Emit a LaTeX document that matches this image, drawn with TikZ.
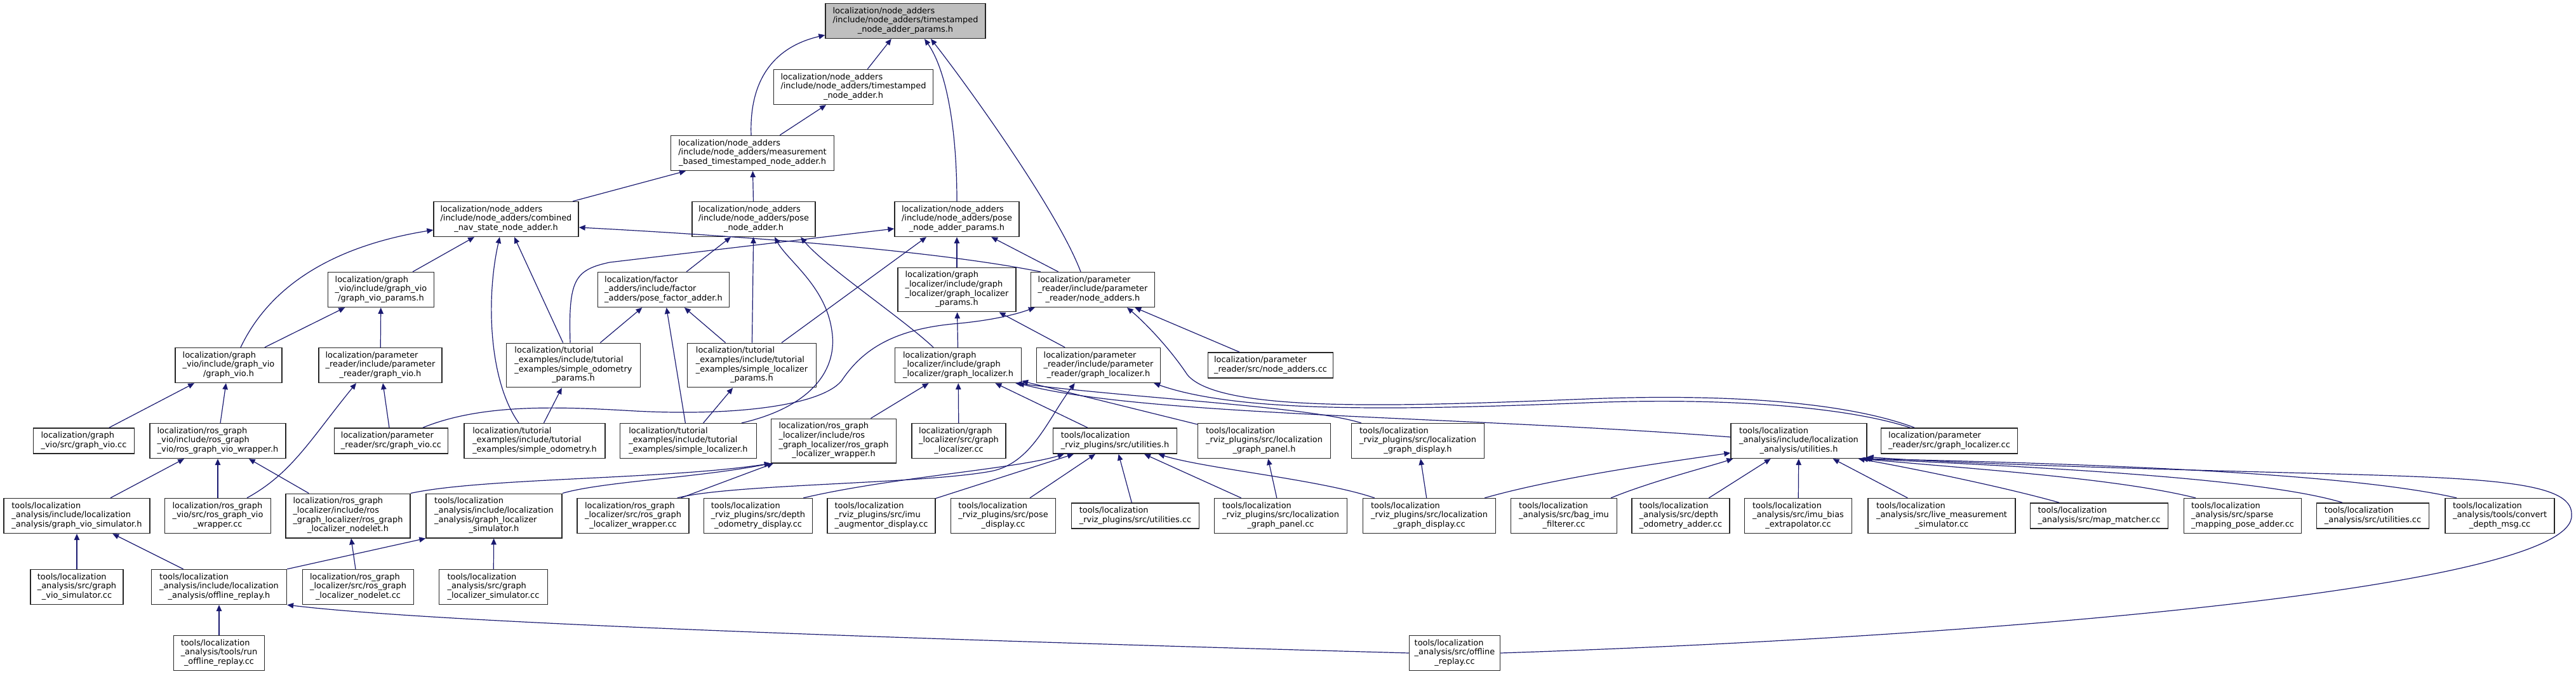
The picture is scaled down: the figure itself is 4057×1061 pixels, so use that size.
\documentclass[tikz,border=0pt]{standalone}
\usepackage{fontspec}
\setmainfont{DejaVu Sans}
\usetikzlibrary{arrows.meta,calc}
\definecolor{incblue}{HTML}{191970}
\definecolor{incgray}{HTML}{BFBFBF}
\tikzset{
  hdr/.style ={draw=black!85, fill=white, line width=1.1pt, inner xsep=4pt, inner ysep=3.9pt,
               font=\fontsize{9.2}{10.4}\selectfont, minimum width=#1*0.25mm},
  root/.style={hdr=#1, fill=incgray},
  dep/.style ={incblue, line width=0.85pt, -{Triangle[length=7pt,width=6pt]}},
}
% all lines flush left, the last one centred
\newcommand{\flines}[2]{\begin{tabular}{@{}l@{}}#1\\\multicolumn{1}{@{}c@{}}{#2}\end{tabular}}

\begin{document}
\begin{tikzpicture}[x=0.25mm, y=-0.25mm]
  \useasboundingbox (0,0) rectangle (4057,1061);
  % row 0 to 3: node adders
  \node[root=252] (n0) at (1426,33) {\flines{localization/node\_adders\\/include/node\_adders/timestamped}{\_node\_adder\_params.h}};
  \node[hdr=251] (n1) at (1344,137) {\flines{localization/node\_adders\\/include/node\_adders/timestamped}{\_node\_adder.h}};
  \node[hdr=257] (n2) at (1185,241) {\flines{localization/node\_adders\\/include/node\_adders/measurement}{\_based\_timestamped\_node\_adder.h}};
  \node[hdr=228] (n3) at (797,345) {\flines{localization/node\_adders\\/include/node\_adders/combined}{\_nav\_state\_node\_adder.h}};
  \node[hdr=194] (n4) at (1187,345) {\flines{localization/node\_adders\\/include/node\_adders/pose}{\_node\_adder.h}};
  \node[hdr=196] (n5) at (1507,345) {\flines{localization/node\_adders\\/include/node\_adders/pose}{\_node\_adder\_params.h}};
  % row 4
  \node[hdr=167] (n6) at (600,456) {\flines{localization/graph\\\_vio/include/graph\_vio}{/graph\_vio\_params.h}};
  \node[hdr=207] (n7) at (1045,456) {\flines{localization/factor\\\_adders/include/factor}{\_adders/pose\_factor\_adder.h}};
  \node[hdr=186] (n8) at (1507,456) {\flines{localization/graph\\\_localizer/include/graph\\\_localizer/graph\_localizer}{\_params.h}};
  \node[hdr=195] (n9) at (1721,456) {\flines{localization/parameter\\\_reader/include/parameter}{\_reader/node\_adders.h}};
  % row 5
  \node[hdr=168] (n10) at (360,575) {\flines{localization/graph\\\_vio/include/graph\_vio}{/graph\_vio.h}};
  \node[hdr=194] (n11) at (599,575) {\flines{localization/parameter\\\_reader/include/parameter}{\_reader/graph\_vio.h}};
  \node[hdr=211] (n12) at (903,575) {\flines{localization/tutorial\\\_examples/include/tutorial\\\_examples/simple\_odometry}{\_params.h}};
  \node[hdr=203] (n13) at (1184,575) {\flines{localization/tutorial\\\_examples/include/tutorial\\\_examples/simple\_localizer}{\_params.h}};
  \node[hdr=199] (n14) at (1509,575) {\flines{localization/graph\\\_localizer/include/graph}{\_localizer/graph\_localizer.h}};
  \node[hdr=195] (n15) at (1730,575) {\flines{localization/parameter\\\_reader/include/parameter}{\_reader/graph\_localizer.h}};
  \node[hdr=197] (n16) at (2001,575) {\flines{localization/parameter}{\_reader/src/node\_adders.cc}};
  % row 6
  \node[hdr=159] (n17) at (132,694) {\flines{localization/graph}{\_vio/src/graph\_vio.cc}};
  \node[hdr=214] (n18) at (343,694) {\flines{localization/ros\_graph\\\_vio/include/ros\_graph}{\_vio/ros\_graph\_vio\_wrapper.h}};
  \node[hdr=179] (n19) at (616,694) {\flines{localization/parameter}{\_reader/src/graph\_vio.cc}};
  \node[hdr=222] (n20) at (842,694) {\flines{localization/tutorial\\\_examples/include/tutorial}{\_examples/simple\_odometry.h}};
  \node[hdr=215] (n21) at (1084,694) {\flines{localization/tutorial\\\_examples/include/tutorial}{\_examples/simple\_localizer.h}};
  \node[hdr=197] (n22) at (1313,694) {\flines{localization/ros\_graph\\\_localizer/include/ros\\\_graph\_localizer/ros\_graph}{\_localizer\_wrapper.h}};
  \node[hdr=148] (n23) at (1510,694) {\flines{localization/graph\\\_localizer/src/graph}{\_localizer.cc}};
  \node[hdr=195] (n24) at (1756,694) {\flines{tools/localization}{\_rviz\_plugins/src/utilities.h}};
  \node[hdr=209] (n25) at (1991,694) {\flines{tools/localization\\\_rviz\_plugins/src/localization}{\_graph\_panel.h}};
  \node[hdr=209] (n26) at (2233,694) {\flines{tools/localization\\\_rviz\_plugins/src/localization}{\_graph\_display.h}};
  \node[hdr=214] (n27) at (2833,694) {\flines{tools/localization\\\_analysis/include/localization}{\_analysis/utilities.h}};
  \node[hdr=215] (n28) at (3070,694) {\flines{localization/parameter}{\_reader/src/graph\_localizer.cc}};
  % row 7
  \node[hdr=230] (n29) at (121,812) {\flines{tools/localization\\\_analysis/include/localization}{\_analysis/graph\_vio\_simulator.h}};
  \node[hdr=167] (n30) at (343,812) {\flines{localization/ros\_graph\\\_vio/src/ros\_graph\_vio}{\_wrapper.cc}};
  \node[hdr=196] (n31) at (548,812) {\flines{localization/ros\_graph\\\_localizer/include/ros\\\_graph\_localizer/ros\_graph}{\_localizer\_nodelet.h}};
  \node[hdr=214] (n32) at (778,812) {\flines{tools/localization\\\_analysis/include/localization\\\_analysis/graph\_localizer}{\_simulator.h}};
  \node[hdr=176] (n33) at (997,812) {\flines{localization/ros\_graph\\\_localizer/src/ros\_graph}{\_localizer\_wrapper.cc}};
  \node[hdr=171] (n34) at (1194,812) {\flines{tools/localization\\\_rviz\_plugins/src/depth}{\_odometry\_display.cc}};
  \node[hdr=170] (n35) at (1388,812) {\flines{tools/localization\\\_rviz\_plugins/src/imu}{\_augmentor\_display.cc}};
  \node[hdr=165] (n36) at (1580,812) {\flines{tools/localization\\\_rviz\_plugins/src/pose}{\_display.cc}};
  \node[hdr=201] (n37) at (1788,812) {\flines{tools/localization}{\_rviz\_plugins/src/utilities.cc}};
  \node[hdr=209] (n38) at (2017,812) {\flines{tools/localization\\\_rviz\_plugins/src/localization}{\_graph\_panel.cc}};
  \node[hdr=209] (n39) at (2251,812) {\flines{tools/localization\\\_rviz\_plugins/src/localization}{\_graph\_display.cc}};
  \node[hdr=167] (n40) at (2463,812) {\flines{tools/localization\\\_analysis/src/bag\_imu}{\_filterer.cc}};
  \node[hdr=154] (n41) at (2647,812) {\flines{tools/localization\\\_analysis/src/depth}{\_odometry\_adder.cc}};
  \node[hdr=169] (n42) at (2832,812) {\flines{tools/localization\\\_analysis/src/imu\_bias}{\_extrapolator.cc}};
  \node[hdr=232] (n43) at (3058,812) {\flines{tools/localization\\\_analysis/src/live\_measurement}{\_simulator.cc}};
  \node[hdr=217] (n44) at (3306,812) {\flines{tools/localization}{\_analysis/src/map\_matcher.cc}};
  \node[hdr=185] (n45) at (3532,812) {\flines{tools/localization\\\_analysis/src/sparse}{\_mapping\_pose\_adder.cc}};
  \node[hdr=177] (n46) at (3737,812) {\flines{tools/localization}{\_analysis/src/utilities.cc}};
  \node[hdr=172] (n47) at (3937,812) {\flines{tools/localization\\\_analysis/tools/convert}{\_depth\_msg.cc}};
  % row 8 and 9
  \node[hdr=146] (n48) at (121,924) {\flines{tools/localization\\\_analysis/src/graph}{\_vio\_simulator.cc}};
  \node[hdr=213] (n49) at (345,924) {\flines{tools/localization\\\_analysis/include/localization}{\_analysis/offline\_replay.h}};
  \node[hdr=175] (n50) at (564,924) {\flines{localization/ros\_graph\\\_localizer/src/ros\_graph}{\_localizer\_nodelet.cc}};
  \node[hdr=171] (n51) at (777,924) {\flines{tools/localization\\\_analysis/src/graph}{\_localizer\_simulator.cc}};
  \node[hdr=143] (n52) at (345,1028) {\flines{tools/localization\\\_analysis/tools/run}{\_offline\_replay.cc}};
  \node[hdr=143] (n53) at (2291,1028) {\flines{tools/localization\\\_analysis/src/offline}{\_replay.cc}};

  % straight includes
  \foreach \a/\b in {n1/n0, n2/n1, n3/n2, n4/n2, n6/n3, n12/n3, n7/n4, n13/n4,
      n8/n5, n9/n5, n10/n6, n11/n6, n12/n7, n13/n7, n21/n7, n14/n8, n15/n8,
      n16/n9, n17/n10, n18/n10, n19/n11, n20/n12, n21/n13, n22/n14, n23/n14,
      n24/n14, n25/n14, n29/n18, n30/n18, n31/n18, n33/n22, n35/n24, n36/n24,
      n37/n24, n38/n24, n38/n25, n39/n26, n41/n27, n42/n27, n43/n27, n48/n29,
      n49/n29, n50/n31, n51/n32, n52/n49}
    \draw[dep] (\a) -- (\b);

  % bent includes
  \draw[dep] ($(n2.north)+(-2,0)$) .. controls (1180,130) and (1215,75) .. ($(n0.south west)+(0,-6)$);
  \draw[dep] (n5.north) .. controls (1507,200) and (1490,110) .. ($(n0.south)+(30,0)$);
  \draw[dep] ($(n9.north)+(-19,0)$) .. controls (1665,330) and (1520,130) .. ($(n0.south)+(40,0)$);
  \draw[dep] ($(n10.north)+(19,0)$) .. controls (430,440) and (540,385) .. ($(n3.west)+(0,17)$);
  \draw[dep] ($(n9.north west)+(16,0)$) .. controls (1450,390) and (1100,368) .. ($(n3.east)+(0,13)$);
  \draw[dep] ($(n20.north)+(-25,0)$) .. controls (770,600) and (765,470) .. ($(n3.south)+(-10,0)$);
  \draw[dep] ($(n21.north)+(84,0)$) .. controls (1280,640) and (1320,580) .. (1310,520)
      .. controls (1300,450) and (1240,410) .. ($(n4.south)+(33,0)$);
  \draw[dep] ($(n14.north)+(-39,0)$) .. controls (1420,500) and (1300,420) .. ($(n4.south)+(74,0)$);
  \draw[dep] ($(n13.north)+(47,0)$) -- ($(n5.south)+(-48,0)$);
  \draw[dep] ($(n12.north)+(-5,0)$) .. controls (895,440) and (905,425) .. (960,413) -- ($(n5.west)+(0,15)$);
  \draw[dep] ($(n30.north)+(46,0)$) .. controls (460,745) and (490,690) .. ($(n11.south)+(-38,0)$);
  \draw[dep] ($(n19.north)+(50,0)$) .. controls (760,635) and (880,640) .. (1000,647)
      .. controls (1150,655) and (1290,640) .. (1325,600) .. controls (1355,555) and (1400,520) .. (1500,510)
      .. controls (1560,505) and (1600,495) .. ($(n9.south west)+(7,0)$);
  \draw[dep] ($(n26.north west)+(16,0)$) .. controls (2060,640) and (1800,628) .. ($(n14.south east)+(-10,0)$);
  \draw[dep] ($(n27.west)+(0,-6)$) .. controls (2300,655) and (1800,655) .. ($(n14.south east)+(-6,0)$);
  \draw[dep] ($(n28.north)+(-55,0)$) .. controls (2900,630) and (2700,620) .. (2500,628)
      .. controls (2200,640) and (1920,650) .. (1870,590) .. controls (1840,545) and (1800,505) .. ($(n9.south)+(54,0)$);
  \draw[dep] ($(n28.north)+(-62,0)$) .. controls (2900,638) and (2700,626) .. (2500,634)
      .. controls (2200,646) and (1950,650) .. ($(n15.south east)+(-11,0)$);
  \draw[dep] (n31.north east) .. controls (760,752) and (1050,755) .. (n22.south west);
  \draw[dep] (n32.north east) .. controls (950,758) and (1100,752) .. (n22.south west);
  \draw[dep] ($(n33.north east)+(-19,0)$) .. controls (1150,762) and (1450,762) .. (1560,742)
      .. controls (1625,730) and (1650,660) .. ($(n15.south west)+(61,0)$);
  \draw[dep] ($(n34.north east)+(-15,0)$) .. controls (1400,752) and (1600,738) .. ($(n24.south west)+(18,0)$);
  \draw[dep] ($(n39.north west)+(19,0)$) .. controls (2080,755) and (1900,738) .. ($(n24.south east)+(-30,0)$);
  \draw[dep] ($(n39.north east)+(-18,0)$) .. controls (2450,752) and (2620,728) .. ($(n27.west)+(0,19)$);
  \draw[dep] ($(n40.north)+(74,0)$) .. controls (2600,758) and (2690,735) .. ($(n27.south west)+(4,0)$);
  \draw[dep] ($(n44.north)+(-63,0)$) .. controls (3150,765) and (3000,735) .. ($(n27.south east)+(-14,0)$);
  \draw[dep] ($(n45.north)+(-74,0)$) .. controls (3330,752) and (3100,738) .. ($(n27.south east)+(-9,0)$);
  \draw[dep] ($(n46.north)+(-48,0)$) .. controls (3560,752) and (3200,735) .. ($(n27.south east)+(-5,0)$);
  \draw[dep] ($(n47.north)+(-68,0)$) .. controls (3700,745) and (3300,730) .. ($(n27.south east)+(-2,0)$);
  \draw[dep] (n53.east) .. controls (3200,1000) and (4060,920) .. (4050,810)
      .. controls (4052,755) and (3900,752) .. (3600,744) .. controls (3300,736) and (3050,728) .. ($(n27.south east)+(0,-3)$);
  \draw[dep] (n53.west) .. controls (1500,1008) and (700,982) .. (n49.south east);
  \draw[dep] (n49.north east) -- (n32.south west);
\end{tikzpicture}
\end{document}
